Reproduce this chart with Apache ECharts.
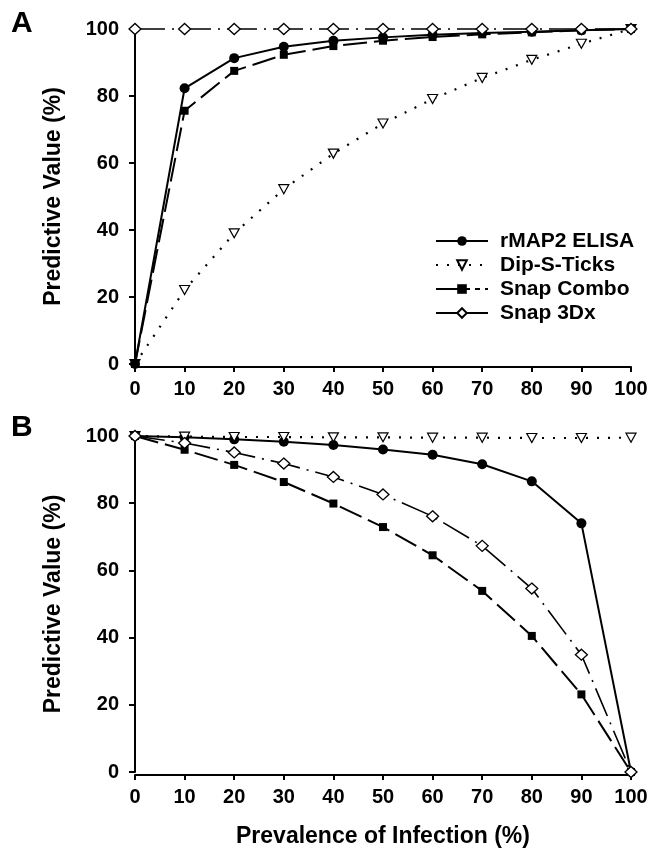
<!DOCTYPE html>
<html>
<head>
<meta charset="utf-8">
<script src="https://cdn.jsdelivr.net/npm/echarts@6/dist/echarts.min.js"></script>
<style>
html,body{margin:0;padding:0;background:#fff;}
#chart{width:651px;height:849px;}
</style>
</head>
<body>
<div id="chart"></div>
<script>
// ---- data ----
const prevalence = [0, 10, 20, 30, 40, 50, 60, 70, 80, 90, 100];
const xTicks = [0, 10, 20, 30, 40, 50, 60, 70, 80, 90, 100];
const yTicks = [0, 20, 40, 60, 80, 100];
const seriesNames = ['rMAP2 ELISA', 'Dip-S-Ticks', 'Snap Combo', 'Snap 3Dx'];

// Panel A
const rmap2A   = [0, 82.3, 91.3, 94.7, 96.5, 97.5, 98.3, 98.8, 99.2, 99.6, 100];
const dipA     = [0, 22.1, 39.0, 52.2, 62.8, 71.8, 79.1, 85.4, 90.8, 95.6, 100];
const comboA   = [0, 75.6, 87.5, 92.3, 94.9, 96.5, 97.6, 98.4, 99.0, 99.6, 100];
const snap3dxA = [100, 100, 100, 100, 100, 100, 100, 100, 100, 100, 100];

// Panel B
const rmap2B   = [100, 99.6, 99.0, 98.3, 97.3, 96.0, 94.4, 91.6, 86.5, 74.0, 0];
const dipB     = [100, 99.8, 99.7, 99.7, 99.6, 99.6, 99.5, 99.5, 99.4, 99.4, 99.5];
const comboB   = [100, 95.9, 91.4, 86.3, 79.9, 72.9, 64.5, 53.9, 40.5, 23.1, 0];
const snap3dxB = [100, 97.9, 95.1, 91.8, 87.8, 82.6, 76.1, 67.3, 54.6, 34.9, 0];

const panelLetters = ['A', 'B'];
const xTitle = 'Prevalence of Infection (%)';
const yTitle = 'Predictive Value (%)';

// ---- chart ----
const FONT = '"Liberation Sans", Arial, Helvetica, sans-serif';
const pairs = vals => prevalence.map((x, i) => [x, vals[i]]);

const styles = {
  'rMAP2 ELISA': { symbol: 'circle', symbolSize: 10, itemStyle: { color: '#000', borderWidth: 0 },
                   lineStyle: { color: '#000', width: 2, type: 'solid' } },
  'Dip-S-Ticks': { symbol: 'path://M0,0L10,0L5,9Z', symbolSize: [10, 9],
                   itemStyle: { color: '#fff', borderColor: '#000', borderWidth: 1.2 },
                   lineStyle: { color: '#000', width: 2.2, type: [2, 9] } },
  'Snap Combo':  { symbol: 'rect', symbolSize: 8, itemStyle: { color: '#000', borderWidth: 0 },
                   lineStyle: { color: '#000', width: 2, type: [24, 7] } },
  'Snap 3Dx':    { symbol: 'diamond', symbolSize: [12, 11],
                   itemStyle: { color: '#fff', borderColor: '#000', borderWidth: 1.3 },
                   lineStyle: { color: '#000', width: 1.6, type: [30, 7, 2, 7] } }
};

function mkSeries(name, vals, idx) {
  const s = styles[name];
  return {
    name: name, type: 'line', xAxisIndex: idx, yAxisIndex: idx,
    data: pairs(vals), symbol: s.symbol, symbolSize: s.symbolSize,
    showSymbol: true, showAllSymbol: true, clip: false,
    itemStyle: s.itemStyle, lineStyle: s.lineStyle,
    emphasis: { disabled: true }, animation: false,
    z: name === 'Snap 3Dx' ? 3 : 2
  };
}

function mkX(idx, withTitle) {
  return {
    type: 'value', gridIndex: idx, min: 0, max: 100, interval: 10, offset: 3,
    axisLine: { show: true, onZero: false, lineStyle: { color: '#000', width: 2 } },
    axisTick: { show: true, inside: false, length: 5, lineStyle: { color: '#000', width: 2 } },
    axisLabel: { color: '#000', fontFamily: FONT, fontWeight: 'bold', fontSize: 20, margin: 12,
                 formatter: v => xTicks.includes(v) ? String(v) : '' },
    splitLine: { show: false },
    name: withTitle ? xTitle : '', nameLocation: 'middle', nameGap: 50,
    nameTextStyle: { color: '#000', fontFamily: FONT, fontWeight: 'bold', fontSize: 23 }
  };
}

function mkY(idx) {
  return {
    type: 'value', gridIndex: idx, min: 0, max: 100, interval: 20,
    axisLine: { show: true, lineStyle: { color: '#000', width: 2 } },
    axisTick: { show: true, inside: false, length: 6, lineStyle: { color: '#000', width: 2 } },
    axisLabel: { color: '#000', fontFamily: FONT, fontWeight: 'bold', fontSize: 20, margin: 16,
                 formatter: v => yTicks.includes(v) ? String(v) : '' },
    splitLine: { show: false },
    name: yTitle, nameLocation: 'middle', nameGap: 70,
    nameTextStyle: { color: '#000', fontFamily: FONT, fontWeight: 'bold', fontSize: 23 }
  };
}

const chart = echarts.init(document.getElementById('chart'), null, { renderer: 'canvas' });
chart.setOption({
  backgroundColor: '#fff',
  animation: false,
  grid: [
    { left: 135, right: 20, top: 29, height: 335 },
    { left: 135, right: 20, top: 436, height: 336 }
  ],
  xAxis: [mkX(0, false), mkX(1, true)],
  yAxis: [mkY(0), mkY(1)],
  legend: {
    orient: 'vertical', left: 430, top: 224,
    itemWidth: 52, itemHeight: 12, itemGap: 0,
    textStyle: { color: '#000', fontFamily: FONT, fontWeight: 'bold', fontSize: 21,
                 lineHeight: 24, padding: [0, 0, 0, 7] },
    data: [
      { name: 'rMAP2 ELISA' },
      { name: 'Dip-S-Ticks' },
      { name: 'Snap Combo', lineStyle: { type: [34, 5, 5, 5] } },
      { name: 'Snap 3Dx', lineStyle: { type: 'solid' } }
    ],
    selectedMode: false
  },
  graphic: [
    { type: 'text', left: 11, top: 9, style: { text: panelLetters[0], fill: '#000',
      font: 'bold 30px ' + FONT } },
    { type: 'text', left: 11, top: 413, style: { text: panelLetters[1], fill: '#000',
      font: 'bold 30px ' + FONT } }
  ],
  series: [
    mkSeries(seriesNames[0], rmap2A, 0),
    mkSeries(seriesNames[1], dipA, 0),
    mkSeries(seriesNames[2], comboA, 0),
    mkSeries(seriesNames[3], snap3dxA, 0),
    mkSeries(seriesNames[0], rmap2B, 1),
    mkSeries(seriesNames[1], dipB, 1),
    mkSeries(seriesNames[2], comboB, 1),
    mkSeries(seriesNames[3], snap3dxB, 1)
  ]
});
</script>
</body>
</html>
